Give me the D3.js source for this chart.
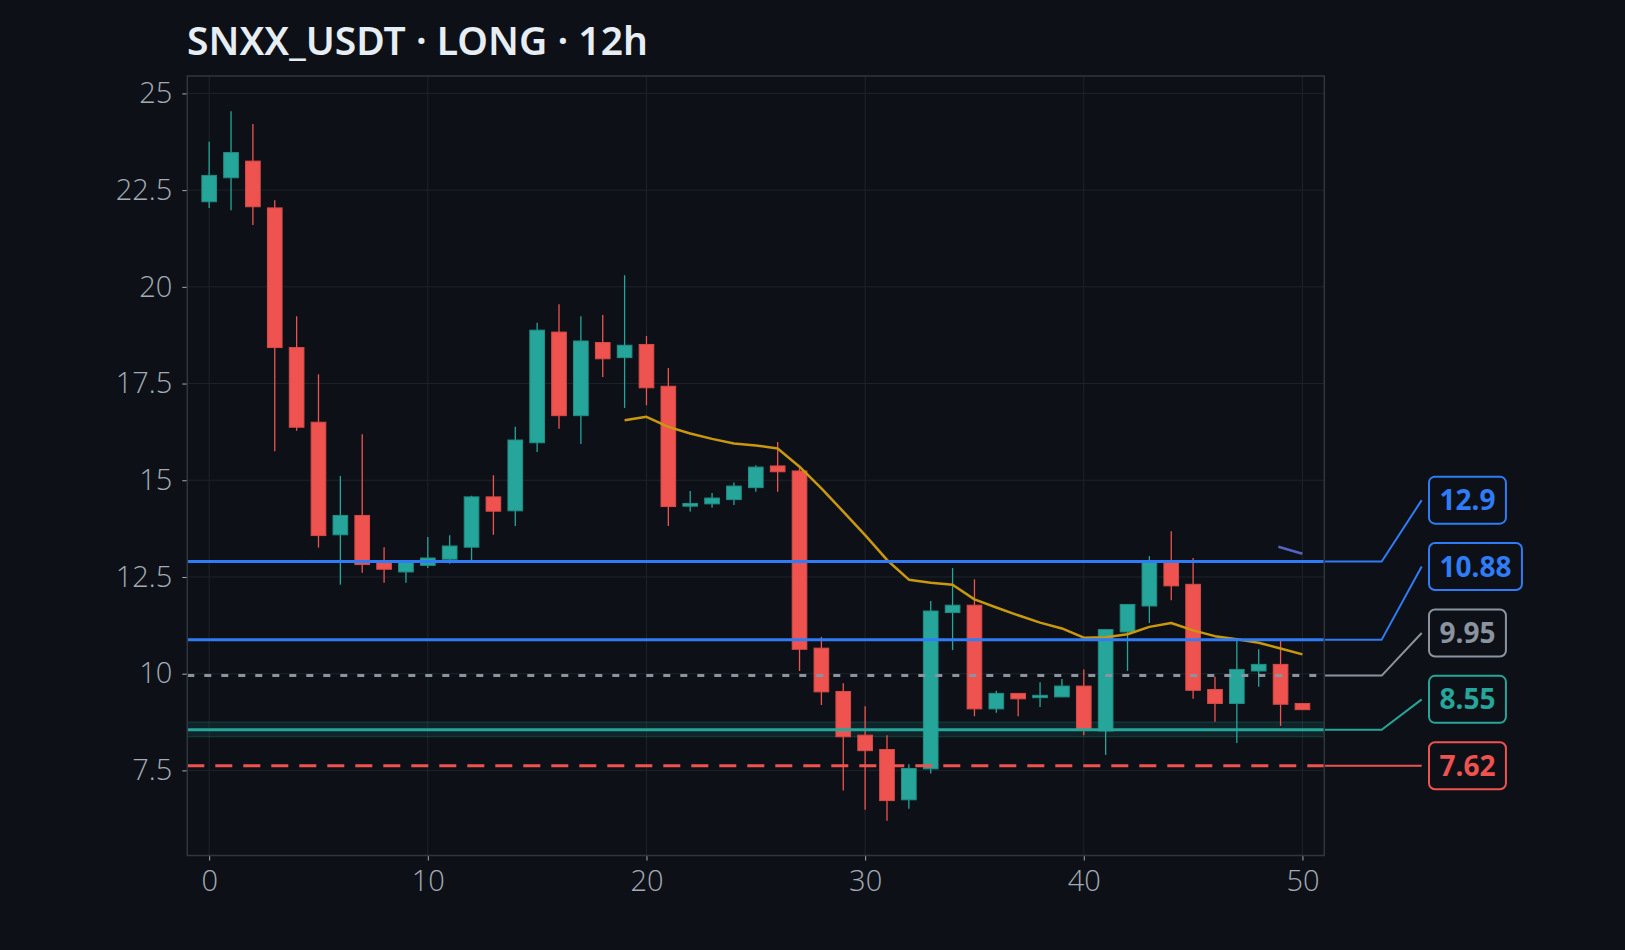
<!DOCTYPE html>
<html>
<head>
<meta charset="utf-8">
<script src="https://cdn.jsdelivr.net/npm/d3@7"></script>
<style>
  html, body { margin: 0; padding: 0; background: #0d1117; }
  svg { display: block; }
</style>
</head>
<body>
<svg id="chart"></svg>
<script>
// candle data, one entry per 12h bar (index = position)
const opens  = [22.20, 22.82, 23.25, 22.04, 18.43, 16.50, 13.59, 14.09, 12.92, 12.63,
                12.80, 12.96, 13.27, 14.57, 14.21, 15.97, 18.83, 16.67, 18.56, 18.17,
                18.51, 17.43, 14.33, 14.39, 14.50, 14.81, 15.37, 15.24, 10.66, 9.54,
                8.41, 8.04, 6.74, 7.54, 11.58, 11.77, 9.09, 9.49, 9.38, 9.40,
                9.68, 8.52, 11.08, 11.75, 12.87, 12.31, 9.59, 9.23, 10.07, 10.24, 9.23];
const highs  = [23.75, 24.54, 24.21, 22.24, 19.24, 17.74, 15.11, 16.19, 13.27, 12.90,
                13.53, 13.58, 14.60, 15.13, 16.38, 19.07, 19.55, 19.24, 19.27, 20.30,
                18.73, 17.90, 14.72, 14.67, 14.94, 15.39, 15.99, 15.38, 10.95, 9.75,
                9.16, 8.41, 7.66, 11.88, 12.73, 12.44, 9.56, 9.50, 9.78, 9.86,
                10.11, 11.14, 11.79, 13.04, 13.68, 12.99, 9.92, 10.85, 10.63, 10.85, 9.23];
const lows   = [22.04, 21.98, 21.60, 15.75, 16.28, 13.26, 12.30, 12.61, 12.35, 12.35,
                12.73, 12.84, 12.92, 13.59, 13.82, 15.73, 16.33, 15.94, 17.67, 16.87,
                16.94, 13.82, 14.19, 14.29, 14.36, 14.70, 14.70, 10.07, 9.19, 6.98,
                6.48, 6.20, 6.51, 7.42, 10.61, 8.90, 8.99, 8.90, 9.14, 9.40,
                8.41, 7.90, 10.07, 11.31, 11.90, 9.35, 8.76, 8.21, 9.66, 8.65, 9.07];
const closes = [22.88, 23.47, 22.07, 18.43, 16.37, 13.57, 14.09, 12.82, 12.70, 12.88,
                12.99, 13.30, 14.57, 14.20, 16.04, 18.88, 16.67, 18.60, 18.14, 18.49,
                17.39, 14.32, 14.40, 14.54, 14.85, 15.34, 15.22, 10.63, 9.53, 8.37,
                8.01, 6.72, 7.55, 11.62, 11.77, 9.09, 9.49, 9.35, 9.44, 9.68,
                8.57, 11.14, 11.79, 12.88, 12.27, 9.57, 9.23, 10.11, 10.24, 9.21, 9.07];

// moving average, starts at bar 19
const maStart = 19;
const maValues = [16.55, 16.64, 16.38, 16.21, 16.07, 15.95, 15.90, 15.82, 15.35, 14.79,
                  14.19, 13.58, 12.94, 12.43, 12.35, 12.30, 11.92, 11.71, 11.51, 11.32,
                  11.17, 10.93, 10.94, 11.02, 11.21, 11.31, 11.12, 10.97, 10.89, 10.80,
                  10.65, 10.50];

// trade levels
const levelPrices = [12.9, 10.88, 9.95, 8.55, 7.62];
const levelNames  = ["tp2", "tp1", "mark", "entry", "stop"];
const entryZone = [8.37, 8.75];

// short trend stub near the last bars
const trendX = [48.9, 50];
const trendY = [13.28, 13.10];

const xTicks = [0, 10, 20, 30, 40, 50];
const yTicks = [7.5, 10, 12.5, 15, 17.5, 20, 22.5, 25];
const titleText = "SNXX_USDT \u00b7 LONG \u00b7 12h";

const levelStyle = {
    tp2:   { color: "#2f7cf6", dash: null,    width: 3 },
    tp1:   { color: "#2f7cf6", dash: null,    width: 3 },
    mark:  { color: "#8b949e", dash: "7,10",  width: 3 },
    entry: { color: "#26a69a", dash: null,    width: 3 },
    stop:  { color: "#ef5350", dash: "17,11", width: 3 }
};

const W = 1625, H = 950;
const plot = { left: 187.3, right: 1324.3, top: 76, bottom: 855.5 };
const upColor = "#26a69a", downColor = "#ef5350";
const tickColor = "#a3abb5", gridColor = "#1e232a";

const svg = d3.select("#chart").attr("width", W).attr("height", H);
svg.append("rect").attr("width", W).attr("height", H).attr("fill", "#0d1117");

const x = d3.scaleLinear().domain([-1, 51]).range([plot.left, plot.right]);
const y = d3.scaleLinear().domain([5.3, 25.45]).range([plot.bottom, plot.top]);

const candles = opens.map((o, i) => ({ i: i, o: o, h: highs[i], l: lows[i], c: closes[i] }));

// grid
const grid = svg.append("g");
grid.selectAll(".gx").data(xTicks).join("line")
    .attr("x1", d => x(d)).attr("x2", d => x(d))
    .attr("y1", plot.top).attr("y2", plot.bottom)
    .attr("stroke", gridColor).attr("stroke-width", 1);
grid.selectAll(".gy").data(yTicks).join("line")
    .attr("x1", plot.left).attr("x2", plot.right)
    .attr("y1", d => y(d)).attr("y2", d => y(d))
    .attr("stroke", gridColor).attr("stroke-width", 1);

// axes
const yAxis = svg.append("g")
    .attr("transform", `translate(${plot.left},0)`)
    .call(d3.axisLeft(y).tickValues(yTicks).tickSize(5).tickPadding(10).tickFormat(d3.format("~g")));
const xAxis = svg.append("g")
    .attr("transform", `translate(0,${plot.bottom})`)
    .call(d3.axisBottom(x).tickValues(xTicks).tickSize(5).tickPadding(10).tickFormat(d3.format("d")));
[xAxis, yAxis].forEach(a => {
    a.select(".domain").remove();
    a.selectAll(".tick line").attr("stroke", tickColor).attr("stroke-width", 1);
    a.selectAll(".tick text")
        .attr("fill", tickColor)
        .style("font-family", "'Open Sans', 'Noto Sans', sans-serif")
        .style("font-weight", 300)
        .style("font-size", "29px");
});

// entry zone band
svg.append("rect")
    .attr("x", plot.left).attr("width", plot.right - plot.left)
    .attr("y", y(entryZone[1])).attr("height", y(entryZone[0]) - y(entryZone[1]))
    .attr("fill", upColor).attr("fill-opacity", 0.13)
    .attr("stroke", upColor).attr("stroke-opacity", 0.25).attr("stroke-width", 1);

// candles
const step = x(1) - x(0);
const bodyW = step * 0.67;
const cg = svg.append("g");
cg.selectAll(".wick").data(candles).join("line")
    .attr("x1", d => x(d.i)).attr("x2", d => x(d.i))
    .attr("y1", d => y(d.h)).attr("y2", d => y(d.l))
    .attr("stroke", d => d.c >= d.o ? upColor : downColor)
    .attr("stroke-width", 1.3);
cg.selectAll(".body").data(candles).join("rect")
    .attr("x", d => x(d.i) - bodyW / 2)
    .attr("width", bodyW)
    .attr("y", d => y(Math.max(d.o, d.c)))
    .attr("height", d => Math.max(1.5, Math.abs(y(d.o) - y(d.c))))
    .attr("fill", d => d.c >= d.o ? upColor : downColor)
    .attr("stroke", d => d.c >= d.o ? "#1f8f85" : "#d94a47")
    .attr("stroke-width", 1);

// moving average
const maLine = d3.line().x((d, k) => x(maStart + k)).y(d => y(d));
svg.append("path").datum(maValues)
    .attr("d", maLine)
    .attr("fill", "none")
    .attr("stroke", "#c9980f")
    .attr("stroke-width", 2.5)
    .attr("stroke-linejoin", "round");

// trend stub
svg.append("path").datum(trendX.map((v, k) => [v, trendY[k]]))
    .attr("d", d3.line().x(d => x(d[0])).y(d => y(d[1])))
    .attr("stroke", "#5563c1").attr("stroke-width", 2.5).attr("fill", "none");

// price levels and labels
const levels = levelPrices.map((p, k) => ({ price: p, name: levelNames[k] }))
    .sort((a, b) => a.price - b.price);
let prevY = Infinity;
levels.forEach(lv => {
    lv.labelY = Math.min(y(lv.price), prevY - 66.4);
    prevY = lv.labelY;
});

const elbowX = 1381.7, labelLineEnd = 1421.7, boxX = 1429;
const lg = svg.append("g");
levels.forEach(lv => {
    const st = levelStyle[lv.name];
    const py = y(lv.price);
    lg.append("line")
        .attr("x1", plot.left).attr("x2", plot.right)
        .attr("y1", py).attr("y2", py)
        .attr("stroke", st.color).attr("stroke-width", st.width)
        .attr("stroke-dasharray", st.dash);
    lg.append("path")
        .attr("d", `M${plot.right},${py}H${elbowX}L${labelLineEnd},${lv.labelY}`)
        .attr("fill", "none")
        .attr("stroke", st.color).attr("stroke-width", 2)
        .attr("stroke-linejoin", "round");
    const box = lg.append("rect");
    const txt = lg.append("text")
        .attr("x", boxX + 10.5)
        .attr("y", lv.labelY)
        .attr("dy", "0.36em")
        .attr("fill", st.color)
        .style("font-family", "'Noto Sans', 'Open Sans', sans-serif")
        .style("font-weight", 700)
        .style("font-size", "28px")
        .text(d3.format("~g")(lv.price));
    const tw = txt.node().getComputedTextLength();
    box.attr("x", boxX).attr("y", lv.labelY - 23.5)
        .attr("width", tw + 21).attr("height", 47)
        .attr("rx", 6)
        .attr("fill", "#0d1117")
        .attr("stroke", st.color).attr("stroke-width", 2);
});

// frame
svg.append("rect")
    .attr("x", plot.left).attr("y", plot.top)
    .attr("width", plot.right - plot.left).attr("height", plot.bottom - plot.top)
    .attr("fill", "none").attr("stroke", "#30363d").attr("stroke-width", 1.5);

// title
svg.append("text")
    .attr("x", 187).attr("y", 55)
    .attr("fill", "#e6edf3")
    .style("font-family", "'Noto Sans', 'Open Sans', sans-serif")
    .style("font-weight", 600)
    .style("font-size", "39px")
    .text(titleText);
</script>
</body>
</html>
